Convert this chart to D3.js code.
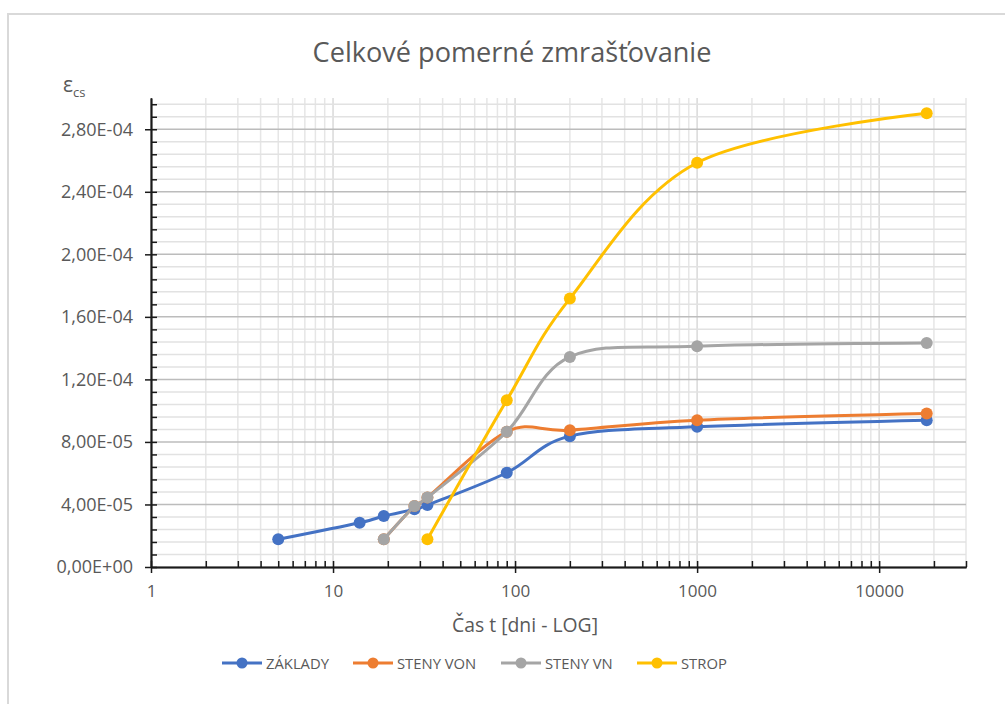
<!DOCTYPE html>
<html>
<head>
<meta charset="utf-8">
<script src="https://cdn.jsdelivr.net/npm/d3@7"></script>
<style>
  html, body { margin: 0; padding: 0; background: #fff; }
  svg, svg text { font-family: "Open Sans", "Noto Sans", sans-serif; }
</style>
</head>
<body>
<div id="chart"></div>
<script>
// Series (time in days, total shrinkage strain)
const zakladyT = [5, 14, 19, 28, 33, 90, 200, 1000, 18250];
const zakladyV = [1.77e-5, 2.83e-5, 3.26e-5, 3.69e-5, 3.96e-5, 6.03e-5, 8.37e-5, 8.97e-5, 9.39e-5];

const stenyVonT = [19, 28, 33, 90, 200, 1000, 18250];
const stenyVonV = [1.77e-5, 3.9e-5, 4.45e-5, 8.65e-5, 8.75e-5, 9.39e-5, 9.82e-5];

const stenyVnT = [19, 28, 33, 90, 200, 1000, 18250];
const stenyVnV = [1.77e-5, 3.9e-5, 4.45e-5, 8.65e-5, 1.344e-4, 1.412e-4, 1.433e-4];

const stropT = [33, 90, 200, 1000, 18250];
const stropV = [1.77e-5, 1.067e-4, 1.717e-4, 2.586e-4, 2.903e-4];

const seriesNames = ["ZÁKLADY", "STENY VON", "STENY VN", "STROP"];
const seriesColors = ["#4472C4", "#ED7D31", "#A5A5A5", "#FFC000"];

// Axis ticks
const xTickValues = [1, 10, 100, 1000, 10000];
const xTickLabels = ["1", "10", "100", "1000", "10000"];
const yTickValues = [0, 4e-5, 8e-5, 1.2e-4, 1.6e-4, 2e-4, 2.4e-4, 2.8e-4];
const yTickLabels = ["0,00E+00", "4,00E-05", "8,00E-05", "1,20E-04", "1,60E-04", "2,00E-04", "2,40E-04", "2,80E-04"];
const yMinorStep = 8e-6;

const W = 1005, H = 704;
const svg = d3.select("#chart").append("svg")
  .attr("width", W)
  .attr("height", H);

// scale a text's font so that its rendered width matches what the chart shows
function fitWidth(sel, target) {
  const n = sel.node();
  const size = parseFloat(sel.style("font-size"));
  const w = n.getComputedTextLength();
  const s = size * target / w;
  sel.style("font-size", s + "px");
  return s;
}

// chart frame
svg.append("rect")
  .attr("x", 8).attr("y", 14)
  .attr("width", W + 10).attr("height", H + 10)
  .attr("fill", "#fff")
  .attr("stroke", "#d9d9d9")
  .attr("stroke-width", 2);

const x = d3.scaleLog().domain([1, 30000]).range([151, 966]);
const y = d3.scaleLinear().domain([0, 3e-4]).range([567, 98]);

const xMinor = x.ticks().filter(d => xTickValues.indexOf(d) < 0);
const yMinor = d3.range(0, 3e-4 + 1e-12, yMinorStep).filter(v => yTickValues.every(t => Math.abs(t - v) > 1e-9));

// gridlines
const grid = svg.append("g");
grid.selectAll(".vminor").data(xMinor).enter().append("line")
  .attr("x1", d => x(d)).attr("x2", d => x(d))
  .attr("y1", y(3e-4)).attr("y2", y(0))
  .attr("stroke", "#e6e6e6").attr("stroke-width", 1.5);
grid.selectAll(".vmajor").data(xTickValues).enter().append("line")
  .attr("x1", d => x(d)).attr("x2", d => x(d))
  .attr("y1", y(3e-4)).attr("y2", y(0))
  .attr("stroke", "#d9d9d9").attr("stroke-width", 1.5);
grid.selectAll(".hminor").data(yMinor).enter().append("line")
  .attr("x1", x(1)).attr("x2", x(30000))
  .attr("y1", d => y(d)).attr("y2", d => y(d))
  .attr("stroke", "#e2e2e2").attr("stroke-width", 1.5);
grid.selectAll(".hmajor").data(yTickValues.slice(1)).enter().append("line")
  .attr("x1", x(1)).attr("x2", x(30000))
  .attr("y1", d => y(d)).attr("y2", d => y(d))
  .attr("stroke", "#bcbcbc").attr("stroke-width", 1.5);

// axes
function styleAxis(g) {
  g.attr("font-family", null).attr("font-size", null);
  g.select(".domain").attr("stroke", "#1a1a1a").attr("stroke-width", 1.5);
  g.selectAll(".tick line").attr("stroke", "#1a1a1a").attr("stroke-width", 1.5);
  g.selectAll(".tick text").attr("fill", "#595959");
}

// y axis: minor ticks inside, major ticks crossing
svg.append("g").attr("transform", `translate(${x(1)},0)`)
  .call(d3.axisRight(y).tickValues(yMinor).tickSize(6).tickFormat("").tickSizeOuter(0))
  .call(styleAxis);
svg.append("g").attr("transform", `translate(${x(1)},0)`)
  .call(d3.axisRight(y).tickValues(yTickValues).tickSize(6).tickFormat("").tickSizeOuter(0))
  .call(styleAxis);
const yAxisG = svg.append("g").attr("transform", `translate(${x(1)},0)`)
  .call(d3.axisLeft(y).tickValues(yTickValues).tickSize(6).tickPadding(12)
    .tickFormat((d, i) => yTickLabels[i]).tickSizeOuter(0))
  .call(styleAxis);
yAxisG.selectAll(".tick text").style("font-size", "18px");
const ySize = fitWidth(yAxisG.selectAll(".tick text").filter((d, i) => i === 7), 72);
yAxisG.selectAll(".tick text").style("font-size", ySize + "px");

// x axis: minor ticks inside, major ticks crossing
svg.append("g").attr("transform", `translate(0,${y(0)})`)
  .call(d3.axisTop(x).tickValues(xMinor).tickSize(6).tickFormat("").tickSizeOuter(0))
  .call(styleAxis);
svg.append("g").attr("transform", `translate(0,${y(0)})`)
  .call(d3.axisTop(x).tickValues(xTickValues).tickSize(6).tickFormat("").tickSizeOuter(0))
  .call(styleAxis);
const xAxisG = svg.append("g").attr("transform", `translate(0,${y(0)})`)
  .call(d3.axisBottom(x).tickValues(xTickValues).tickSize(6).tickPadding(12)
    .tickFormat((d, i) => xTickLabels[i]).tickSizeOuter(0))
  .call(styleAxis);
xAxisG.selectAll(".tick text").style("font-size", "18px");
const xSize = fitWidth(xAxisG.selectAll(".tick text").filter((d, i) => i === 3), 39);
xAxisG.selectAll(".tick text").style("font-size", xSize + "px");

// series
const series = [
  { t: zakladyT, v: zakladyV },
  { t: stenyVonT, v: stenyVonV },
  { t: stenyVnT, v: stenyVnV },
  { t: stropT, v: stropV }
];

const line = d3.line()
  .x(d => x(d[0]))
  .y(d => y(d[1]))
  .curve(d3.curveCatmullRom.alpha(0));

series.forEach((s, i) => {
  const pts = s.t.map((t, j) => [t, s.v[j]]);
  const g = svg.append("g");
  g.append("path")
    .datum(pts)
    .attr("d", line)
    .attr("fill", "none")
    .attr("stroke", seriesColors[i])
    .attr("stroke-width", 3)
    .attr("stroke-linecap", "round");
  g.selectAll("circle").data(pts).enter().append("circle")
    .attr("cx", d => x(d[0]))
    .attr("cy", d => y(d[1]))
    .attr("r", 6)
    .attr("fill", seriesColors[i]);
});

// title
const title = svg.append("text")
  .attr("x", 512).attr("y", 62)
  .attr("text-anchor", "middle")
  .attr("fill", "#595959")
  .style("font-size", "27px")
  .text("Celkové pomerné zmrašťovanie");
fitWidth(title, 399);

// x axis title
const xTitle = svg.append("text")
  .attr("x", 525).attr("y", 632)
  .attr("text-anchor", "middle")
  .attr("fill", "#595959")
  .style("font-size", "19.5px")
  .text("Čas t [dni - LOG]");
fitWidth(xTitle, 146);

// y axis title
const yt = svg.append("text")
  .attr("x", 63).attr("y", 92)
  .attr("fill", "#595959")
  .style("font-size", "21px");
yt.append("tspan").text("ε");
yt.append("tspan").attr("dy", 5).style("font-size", "13px").text("cs");

// legend
const legendX = [222, 353, 501, 637];
const leg = svg.append("g");
let legSize = null;
seriesNames.forEach((name, i) => {
  const g = leg.append("g").attr("transform", `translate(${legendX[i]},663)`);
  g.append("line")
    .attr("x1", 0).attr("x2", 40)
    .attr("stroke", seriesColors[i]).attr("stroke-width", 3);
  g.append("circle").attr("cx", 20).attr("r", 5.5).attr("fill", seriesColors[i]);
  const t = g.append("text")
    .attr("x", 44).attr("y", 6)
    .attr("fill", "#595959")
    .style("font-size", "16px")
    .text(name);
  if (i === 0) legSize = fitWidth(t, 63);
  else t.style("font-size", legSize + "px");
});
</script>
</body>
</html>
